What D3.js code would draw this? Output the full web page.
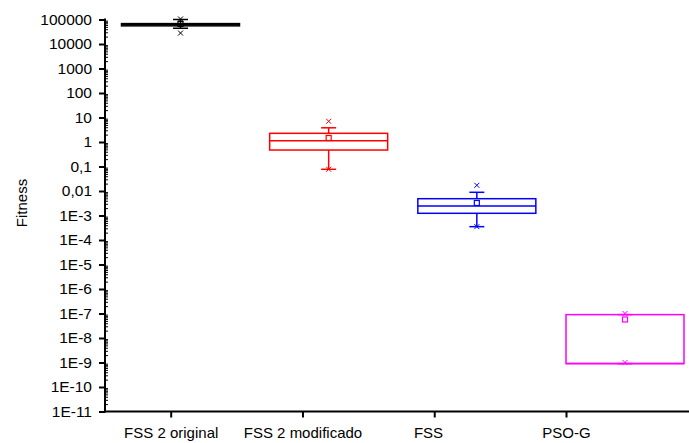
<!DOCTYPE html>
<html>
<head>
<meta charset="utf-8">
<script src="https://cdn.jsdelivr.net/npm/d3@7/dist/d3.min.js"></script>
<style>
  html, body { margin: 0; padding: 0; background: #fff; }
  svg { display: block; font-family: "Liberation Sans", Arial, sans-serif; }
</style>
</head>
<body>
<svg id="chart" width="689" height="443"></svg>
<script>
// Algorithms compared
const categories = ["FSS 2 original", "FSS 2 modificado", "FSS\u00a0\u00a0\u00a0", "PSO-G"];
const colors = ["#000000", "#ff0000", "#0000ff", "#ff00ff"];

// Box statistics of the final fitness per algorithm
const q1 = [55000, 0.47, 0.00123, 9e-10];
const median = [61000, 1.13, 0.00244, 9e-10];
const q3 = [68000, 2.26, 0.00485, 9e-8];
const mean = [66000, 1.46, 0.00324, 5.7e-8];
const whiskerLow = [43900, 0.077, 0.00035, 9e-10];
const whiskerHigh = [100000, 3.8, 0.00885, 9e-8];
const minVal = [28000, 0.077, 0.00035, 1e-9];
const maxVal = [105000, 7, 0.0171, 1e-7];

// Y axis decades and their labels
const yTickValues = [1e-11, 1e-10, 1e-9, 1e-8, 1e-7, 1e-6, 1e-5, 1e-4, 1e-3, 1e-2, 1e-1, 1, 10, 100, 1000, 10000, 100000];
const yTickLabels = ["1E-11", "1E-10", "1E-9", "1E-8", "1E-7", "1E-6", "1E-5", "1E-4", "1E-3", "0,01", "0,1", "1", "10", "100", "1000", "10000", "100000"];

const svg = d3.select("#chart");
const axisX0 = 105, axisX1 = 689, axisY = 411.5;

const y = d3.scaleLog().domain([1e-11, 1e5]).range([axisY, 19.5]);
const xTick = d3.scalePoint().domain(categories).range([170.7, 566]);
const xBox = d3.scalePoint().domain(categories).range([180.5, 625]);
const boxW = 118, capW = 15;

// minor ticks (2..9 within each decade), drawn inside the plot
const minors = [];
for (let k = -11; k < 5; k++) for (let m = 2; m <= 9; m++) minors.push(m * Math.pow(10, k));

const minorAxis = svg.append("g")
  .attr("transform", `translate(${axisX0},0)`)
  .call(d3.axisRight(y).tickValues(minors).tickSize(3).tickFormat(""));
minorAxis.select(".domain").remove();
minorAxis.selectAll("line").attr("stroke", "#000").attr("stroke-width", 1);

const yAxis = svg.append("g")
  .attr("transform", `translate(${axisX0},0)`)
  .call(d3.axisLeft(y).tickValues(yTickValues).tickSize(6).tickPadding(7)
    .tickFormat((d, i) => yTickLabels[i]));
yAxis.select(".domain").remove();
yAxis.selectAll("line").attr("stroke", "#000").attr("stroke-width", 2);
yAxis.selectAll("text").attr("font-size", 15.5).attr("fill", "#000")
  .attr("font-family", "'Liberation Sans', Arial, sans-serif");

const xAxis = svg.append("g")
  .attr("transform", `translate(0,${axisY})`)
  .call(d3.axisBottom(xTick).tickSize(6).tickPadding(9.5));
xAxis.select(".domain").remove();
xAxis.selectAll("line").attr("stroke", "#000").attr("stroke-width", 2);
xAxis.selectAll("text").attr("font-size", 15).attr("fill", "#000")
  .attr("font-family", "'Liberation Sans', Arial, sans-serif");

// axis lines
svg.append("line").attr("x1", axisX0).attr("x2", axisX0)
  .attr("y1", y(1e5) - 1).attr("y2", axisY + 1)
  .attr("stroke", "#000").attr("stroke-width", 2);
svg.append("line").attr("x1", axisX0 - 1).attr("x2", axisX1)
  .attr("y1", axisY).attr("y2", axisY)
  .attr("stroke", "#000").attr("stroke-width", 2);

// y title
svg.append("text")
  .attr("transform", "translate(26.5,203) rotate(-90)")
  .attr("text-anchor", "middle")
  .attr("font-size", 15)
  .attr("fill", "#000")
  .text("Fitness");

// box plots
categories.forEach((c, i) => {
  const g = svg.append("g").attr("stroke", colors[i]).attr("fill", "none").attr("stroke-width", 1.5);
  const cx = xBox(c);
  // whiskers
  g.append("line").attr("x1", cx).attr("x2", cx).attr("y1", y(q3[i])).attr("y2", y(whiskerHigh[i]));
  g.append("line").attr("x1", cx).attr("x2", cx).attr("y1", y(q1[i])).attr("y2", y(whiskerLow[i]));
  g.append("line").attr("x1", cx - capW / 2).attr("x2", cx + capW / 2).attr("y1", y(whiskerHigh[i])).attr("y2", y(whiskerHigh[i]));
  g.append("line").attr("x1", cx - capW / 2).attr("x2", cx + capW / 2).attr("y1", y(whiskerLow[i])).attr("y2", y(whiskerLow[i]));
  // box
  g.append("rect").attr("x", cx - boxW / 2).attr("width", boxW)
    .attr("y", y(q3[i])).attr("height", y(q1[i]) - y(q3[i]));
  // median
  g.append("line").attr("x1", cx - boxW / 2).attr("x2", cx + boxW / 2)
    .attr("y1", y(median[i])).attr("y2", y(median[i]));
  // mean
  g.append("rect").attr("x", cx - 2.5).attr("y", y(mean[i]) - 2.5).attr("width", 5).attr("height", 5)
    .attr("stroke-width", 1.2);
  // min / max crosses
  [minVal[i], maxVal[i]].forEach(v => {
    const yy = y(v), s = 2.5;
    g.append("path").attr("stroke-width", 1)
      .attr("d", `M${cx - s},${yy - s}L${cx + s},${yy + s}M${cx - s},${yy + s}L${cx + s},${yy - s}`);
  });
});
</script>
</body>
</html>
